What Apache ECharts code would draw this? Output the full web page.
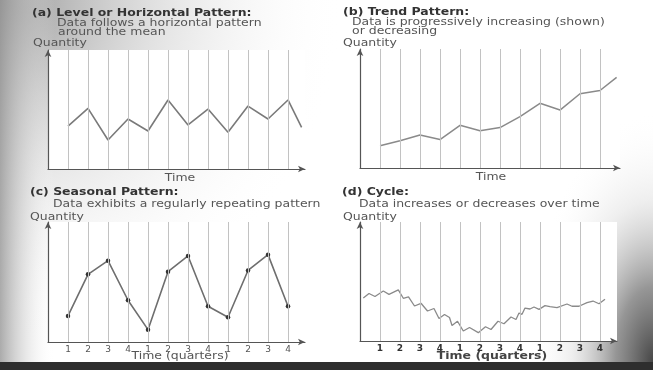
<!DOCTYPE html>
<html><head><meta charset="utf-8">
<script src="https://cdn.jsdelivr.net/npm/echarts@6/dist/echarts.min.js"></script>
<style>html,body{margin:0;padding:0;background:#fff}#c{width:653px;height:370px}</style>
</head><body><div id="c"></div>
<script>
// ---- data ----
const gridLinesX = [1,2,3,4,5,6,7,8,9,10,11,12];
const quarterLabels = ['1','2','3','4','1','2','3','4','1','2','3','4'];

const levelX = [1,2,3,4,5,6,7,8,9,10,11,12,12.68];
const levelY = [3.61,5.10,2.44,4.20,3.19,5.80,3.70,5.04,3.08,5.29,4.20,5.80,3.50];

const trendX = [1,2,3,4,5,6,7,8,9,10,11,12,12.83];
const trendY = [1.87,2.29,2.77,2.39,3.59,3.13,3.40,4.31,5.44,4.87,6.24,6.51,7.62];

const seasonalX = [1,2,3,4,5,6,7,8,9,10,11,12];
const seasonalY = [2.17,5.64,6.78,3.48,1.03,5.86,7.17,2.98,2.06,5.96,7.28,2.98];

const cycleX = [0.165,0.45,0.75,1.165,1.45,1.915,2.165,2.425,2.725,3.05,3.375,3.70,3.95,4.225,4.475,4.60,4.875,5.165,5.475,5.915,6.275,6.55,6.90,7.20,7.55,7.80,7.95,8.10,8.25,8.50,8.70,8.95,9.25,9.50,9.85,10.35,10.60,10.95,11.35,11.65,11.95,12.25];
const cycleY = [3.61,3.99,3.74,4.20,3.92,4.29,3.59,3.70,2.94,3.17,2.52,2.73,1.89,2.23,1.97,1.30,1.66,0.84,1.13,0.70,1.20,0.97,1.66,1.45,2.02,1.81,2.35,2.24,2.77,2.69,2.86,2.66,2.97,2.88,2.80,3.11,2.92,2.92,3.22,3.36,3.13,3.50];

const texts = {
  aTitle: '(a) Level or Horizontal Pattern:',
  aSub1: 'Data follows a horizontal pattern',
  aSub2: 'around the mean',
  bTitle: '(b) Trend Pattern:',
  bSub1: 'Data is progressively increasing (shown)',
  bSub2: 'or decreasing',
  cTitle: '(c) Seasonal Pattern:',
  cSub1: 'Data exhibits a regularly repeating pattern',
  dTitle: '(d) Cycle:',
  dSub1: 'Data increases or decreases over time',
  qty: 'Quantity',
  time: 'Time',
  timeQ: 'Time (quarters)'
};

// ---- chart ----
const zip = (xs, ys) => xs.map((x, i) => [x, ys[i]]);
const FONT = '"DejaVu Sans", sans-serif';
const SX = 1.3;

const grids = [
  {left: 48, top: 50, width: 257, height: 119},
  {left: 360, top: 49, width: 260, height: 119},
  {left: 48, top: 222, width: 257, height: 120},
  {left: 360, top: 222, width: 257, height: 119}
];
const xMax = [12.85, 13, 12.85, 12.85];

function xAxisFor(i, withLabels) {
  return {
    type: 'value', gridIndex: i, min: 0, max: xMax[i], interval: 1,
    axisLine: {show: true, symbol: ['none', 'arrow'], symbolSize: [5, 7],
      lineStyle: {color: '#555', width: 1.2}},
    axisTick: {show: false},
    splitLine: {show: false},
    axisLabel: {
      show: withLabels, margin: 3, fontSize: 9, fontFamily: FONT,
      color: i === 3 ? '#333' : '#555', fontWeight: i === 3 ? 'bold' : 'normal',
      showMinLabel: false, showMaxLabel: false,
      formatter: v => (Number.isInteger(v) && v >= 1 && v <= 12) ? quarterLabels[v - 1] : ''
    }
  };
}
function yAxisFor(i) {
  return {
    type: 'value', gridIndex: i, min: 0, max: 10,
    axisLine: {show: true, symbol: ['none', 'arrow'], symbolSize: [5, 7],
      lineStyle: {color: '#555', width: 1.2}},
    axisTick: {show: false}, axisLabel: {show: false}, splitLine: {show: false}
  };
}
const vLines = {
  silent: true, symbol: 'none', animation: false,
  label: {show: false},
  lineStyle: {type: 'solid', color: '#c2c2c2', width: 1},
  data: gridLinesX.map(x => ({xAxis: x}))
};

function txt(text, x, y, opts) {
  opts = opts || {};
  return {
    type: 'text', x: x, y: y, scaleX: SX, z: 100,
    style: {
      text: text, fill: opts.fill || '#555',
      font: (opts.bold ? 'bold ' : '') + (opts.size || 9.6) + 'px ' + FONT,
      align: opts.align || 'left', verticalAlign: 'middle',
      textAlign: opts.align || 'left', textVerticalAlign: 'middle'
    }
  };
}

const graphic = [
  // background shading
  {type: 'rect', z: -100, shape: {x: 0, y: 0, width: 653, height: 362},
   style: {fill: {type: 'radial', x: 0, y: 0, r: 0.95, colorStops: [
     {offset: 0, color: 'rgba(130,130,130,0.85)'},
     {offset: 0.45, color: 'rgba(195,195,195,0.5)'},
     {offset: 1, color: 'rgba(255,255,255,0)'}]}}},
  {type: 'rect', z: -99, shape: {x: 0, y: 0, width: 55, height: 362},
   style: {fill: {type: 'linear', x: 0, y: 0, x2: 1, y2: 0, colorStops: [
     {offset: 0, color: 'rgba(150,150,150,0.8)'},
     {offset: 1, color: 'rgba(255,255,255,0)'}]}}},
  {type: 'rect', z: -98, x: 653 - 125, y: 100, scaleX: 0.5,
   shape: {x: 0, y: 0, width: 250, height: 262},
   style: {fill: {type: 'radial', x: 1, y: 1, r: 1, colorStops: [
     {offset: 0, color: 'rgba(60,60,60,0.95)'},
     {offset: 0.3, color: 'rgba(115,115,115,0.75)'},
     {offset: 0.65, color: 'rgba(200,200,200,0.3)'},
     {offset: 1, color: 'rgba(255,255,255,0)'}]}}},
  {type: 'rect', z: -50, shape: {x: 0, y: 362, width: 653, height: 8},
   style: {fill: '#2e2e2e'}},
  // texts
  txt(texts.aTitle, 32, 13, {bold: true, fill: '#333'}),
  txt(texts.aSub1, 57, 23),
  txt(texts.aSub2, 58, 32.5),
  txt(texts.qty, 33, 43),
  txt(texts.time, 180, 178, {align: 'center'}),
  txt(texts.bTitle, 343, 12, {bold: true, fill: '#333'}),
  txt(texts.bSub1, 352, 22),
  txt(texts.bSub2, 352, 31.5),
  txt(texts.qty, 343, 43),
  txt(texts.time, 491, 177, {align: 'center'}),
  txt(texts.cTitle, 30, 192, {bold: true, fill: '#333'}),
  txt(texts.cSub1, 53, 204.5),
  txt(texts.qty, 30, 217),
  txt(texts.timeQ, 180, 356, {align: 'center'}),
  txt(texts.dTitle, 342, 192, {bold: true, fill: '#333'}),
  txt(texts.dSub1, 359, 204.5),
  txt(texts.qty, 343, 217),
  txt(texts.timeQ, 492, 356, {align: 'center', bold: true, fill: '#444'})
];

const chart = echarts.init(document.getElementById('c'), null, {renderer: 'canvas'});
chart.setOption({
  animation: false,
  backgroundColor: '#ffffff',
  grid: grids.map(g => Object.assign({show: true, backgroundColor: '#ffffff', borderWidth: 0}, g)),
  xAxis: [xAxisFor(0, false), xAxisFor(1, false), xAxisFor(2, true), xAxisFor(3, true)],
  yAxis: [yAxisFor(0), yAxisFor(1), yAxisFor(2), yAxisFor(3)],
  graphic: graphic,
  series: [
    {type: 'line', xAxisIndex: 0, yAxisIndex: 0, data: zip(levelX, levelY), showSymbol: false,
     lineStyle: {color: '#7a7a7a', width: 1.6}, markLine: vLines},
    {type: 'line', xAxisIndex: 1, yAxisIndex: 1, data: zip(trendX, trendY), showSymbol: false,
     lineStyle: {color: '#8a8a8a', width: 1.5}, markLine: vLines},
    {type: 'line', xAxisIndex: 2, yAxisIndex: 2, data: zip(seasonalX, seasonalY),
     symbol: 'circle', symbolSize: 4.5, itemStyle: {color: '#333'},
     lineStyle: {color: '#6e6e6e', width: 1.6}, markLine: vLines},
    {type: 'line', xAxisIndex: 3, yAxisIndex: 3, data: zip(cycleX, cycleY), showSymbol: false,
     lineStyle: {color: '#8a8a8a', width: 1.3}, markLine: vLines}
  ]
});
</script></body></html>
